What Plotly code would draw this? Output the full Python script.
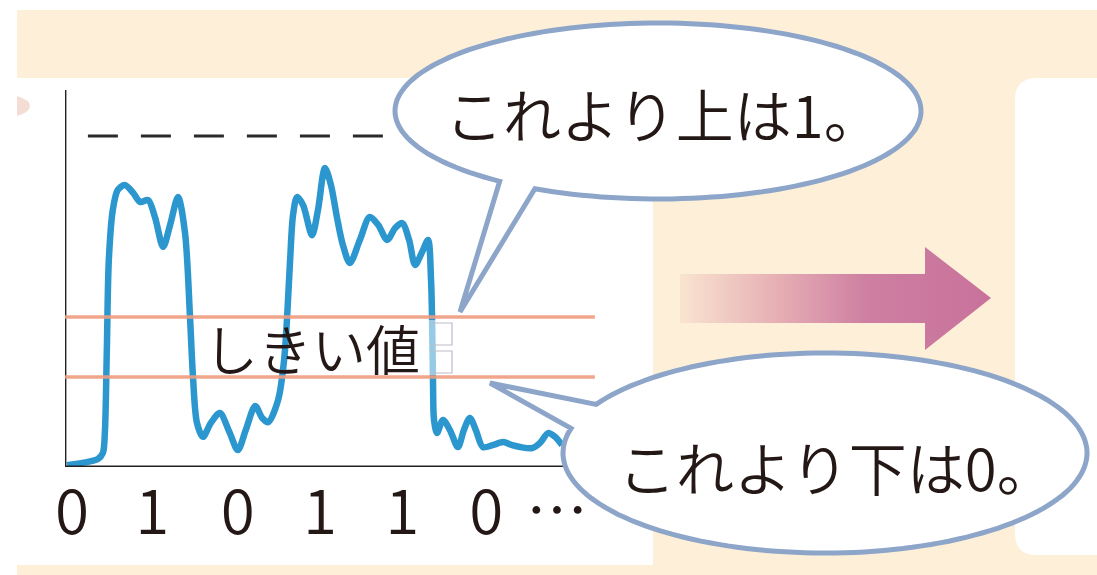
import numpy as np
import plotly.graph_objects as go

W, H = 1097, 575

# ---------------- data ----------------
# sampled analogue signal (time: arbitrary units, amplitude: 0-100)
time = [0.4, 4.4, 6.6, 7.6, 8.0, 8.4, 8.8, 9.6, 10.6, 12.0,
        13.7, 15.1, 16.7, 18.1, 19.7, 21.1, 22.7, 24.1, 25.1, 25.7,
        26.5, 27.7, 29.3, 31.1, 33.0, 34.7, 36.3, 38.2, 39.6, 40.8,
        42.8, 44.0, 44.6, 45.2, 45.8, 46.6, 47.8, 49.6, 50.8, 52.2,
        53.4, 54.6, 55.8, 57.2, 59.2, 61.2, 62.9, 64.7, 66.3, 67.7,
        69.1, 70.3, 71.7, 72.9, 73.5, 73.7, 73.9, 74.1, 74.7, 75.9,
        77.3, 78.9, 80.1, 81.3, 82.5, 83.9, 85.9, 88.0, 89.8, 91.4,
        93.8, 95.4, 97.0, 98.4, 99.8]
amplitude = [0.5, 1.3, 2.1, 3.7, 9.0, 31.0, 54.9, 68.2, 73.5, 74.8,
             72.7, 70.3, 70.8, 66.1, 58.4, 64.2, 71.6, 62.1, 39.8, 23.9,
             11.7, 8.0, 11.7, 14.3, 9.3, 4.5, 9.8, 16.2, 13.0, 11.9,
             17.8, 28.4, 39.8, 54.9, 66.9, 71.6, 69.5, 61.5, 68.2, 79.3,
             74.8, 66.3, 58.9, 54.1, 60.2, 66.3, 64.2, 60.2, 63.4, 64.7,
             60.2, 53.6, 57.0, 60.2, 49.6, 39.8, 22.3, 12.5, 9.0, 12.5,
             9.8, 5.3, 9.8, 13.0, 9.8, 5.3, 5.8, 6.6, 5.8, 5.3,
             5.0, 6.4, 9.0, 8.0, 5.8]

thresholds = [23.9, 39.8]          # lower / upper threshold
high_level = 87.8                  # dashed reference level
threshold_extent = [0, 106.4]
axis_extent_t = [0, 100]
axis_extent_v = [0, 100]
dash_extent = [4.6, 75]

bits = ["0", "1", "0", "1", "1", "0", "…"]
bit_positions = [1.4, 17.5, 34.7, 51.2, 67.7, 84.6, 98.8]

threshold_label = "しきい値"
upper_label = "これより上は1。"
lower_label = "これより下は0。"

# ---------------- style ----------------
FONT = "Noto Sans CJK JP"
INK = "#231815"
BLUE = "#2C97CF"
ORANGE = "#EF9D7F"
BUBBLE = "#8CA5C9"
PEACH = "#FDEFD8"
WEIGHT = 350


def fx(p):
    return p / W


def fy(p):
    return 1 - p / H


def bubble_path(cx, cy, rx, ry, base1, base2, tip, n=160):
    a1 = np.arctan2((base1[1] - cy) / ry, (base1[0] - cx) / rx)
    a2 = np.arctan2((base2[1] - cy) / ry, (base2[0] - cx) / rx)
    lo, hi = min(a1, a2), max(a1, a2)
    ang = np.linspace(hi, lo + 2 * np.pi, n)
    xs = cx + rx * np.cos(ang)
    ys = cy + ry * np.sin(ang)
    pts = [f"{x:.1f},{y:.1f}" for x, y in zip(xs, ys)]
    return "M " + " L ".join(pts) + f" L {tip[0]},{tip[1]} Z"


def rounded_rect_paper(x0, y0, x1, y1, r):
    X = lambda v: f"{fx(v):.5f}"
    Y = lambda v: f"{fy(v):.5f}"
    return (f"M {X(x0+r)},{Y(y0)} L {X(x1-r)},{Y(y0)} Q {X(x1)},{Y(y0)} {X(x1)},{Y(y0+r)} "
            f"L {X(x1)},{Y(y1-r)} Q {X(x1)},{Y(y1)} {X(x1-r)},{Y(y1)} L {X(x0+r)},{Y(y1)} "
            f"Q {X(x0)},{Y(y1)} {X(x0)},{Y(y1-r)} L {X(x0)},{Y(y0+r)} Q {X(x0)},{Y(y0)} {X(x0+r)},{Y(y0)} Z")


fig = go.Figure()

# signal
fig.add_trace(go.Scatter(
    x=time, y=amplitude, mode="lines",
    line=dict(color=BLUE, width=6.5, shape="spline", smoothing=0.85),
    hoverinfo="skip", xaxis="x", yaxis="y"))

# arrow (gradient) on full-figure pixel axes
arrow_x = [680, 925, 925, 991, 925, 925, 680, 680]
arrow_y = [274, 274, 247, 298, 350, 323, 323, 274]
fig.add_trace(go.Scatter(
    x=arrow_x, y=arrow_y, mode="lines", fill="toself",
    line=dict(width=0, color="rgba(0,0,0,0)"),
    fillgradient=dict(type="horizontal",
                      colorscale=[[0, "#F9E4D0"], [0.3, "#E7B1B5"],
                                  [0.6, "#CE7FA2"], [1, "#C8729B"]],
                      start=680, stop=991),
    hoverinfo="skip", xaxis="x2", yaxis="y2"))

shapes = []
P = dict(xref="x2", yref="y2")
PP = dict(xref="paper", yref="paper", layer="below")

# backgrounds (paper refs -> drawn beneath every subplot)
shapes.append(dict(type="rect", x0=fx(17), x1=fx(1100), y0=fy(10), y1=fy(580),
                   fillcolor=PEACH, line=dict(width=0), **PP))
shapes.append(dict(type="rect", x0=fx(17), x1=fx(653), y0=fy(78), y1=fy(565),
                   fillcolor="white", line=dict(width=0), **PP))
shapes.append(dict(type="path", path=rounded_rect_paper(1015, 78, 1130, 555, 22),
                   fillcolor="white", line=dict(width=0), **PP))
shapes.append(dict(type="path",
                   path=f"M {fx(17)},{fy(96)} Q {fx(30)},{fy(100)} {fx(30)},{fy(106)} "
                        f"Q {fx(30)},{fy(112)} {fx(17)},{fy(116)} Z",
                   fillcolor="#EFCFC2", opacity=0.7, line=dict(width=0), **PP))

# axis lines of the signal plot
shapes.append(dict(type="line", xref="x", yref="y", x0=axis_extent_t[0], x1=axis_extent_t[0],
                   y0=axis_extent_v[0], y1=axis_extent_v[1],
                   line=dict(color="#222222", width=2.8)))
shapes.append(dict(type="line", xref="x", yref="y", x0=axis_extent_t[0], x1=axis_extent_t[1],
                   y0=axis_extent_v[0], y1=axis_extent_v[0],
                   line=dict(color="#222222", width=2.8)))

# dashed high level
shapes.append(dict(type="line", xref="x", yref="y", x0=dash_extent[0], x1=dash_extent[1],
                   y0=high_level, y1=high_level,
                   line=dict(color="#2A2A2A", width=3, dash="30px,23px")))

# thresholds
for th in thresholds:
    shapes.append(dict(type="line", xref="x", yref="y",
                       x0=threshold_extent[0], x1=threshold_extent[1], y0=th, y1=th,
                       line=dict(color=ORANGE, width=3.5), opacity=0.9))

# faint bracket marks
shapes.append(dict(type="rect", x0=427, x1=441, y0=320, y1=375,
                   fillcolor="white", opacity=0.5, line=dict(width=0), **P))
shapes.append(dict(type="path",
                   path="M 430,323 L 452,323 L 452,345 L 430,345 M 430,351 L 452,351 L 452,373 L 430,373",
                   line=dict(color="#B9BEC8", width=1.2), **P))

# speech bubbles
shapes.append(dict(type="path",
                   path=bubble_path(658, 111, 263, 88, (498, 182), (533, 190), (460, 312)),
                   fillcolor="white", line=dict(color=BUBBLE, width=5), **P))
shapes.append(dict(type="path",
                   path=bubble_path(825, 453, 262, 100, (585, 402), (567, 428), (490, 383)),
                   fillcolor="white", line=dict(color=BUBBLE, width=5), **P))

annotations = [
    dict(text=threshold_label, xref="x", yref="y", x=49.6, y=31.8,
         showarrow=False, font=dict(family=FONT, size=54, color=INK, weight=WEIGHT)),
    dict(text=upper_label, xref="x2", yref="y2", x=443, y=113, xanchor="left",
         showarrow=False, font=dict(family=FONT, size=58, color=INK, weight=WEIGHT)),
    dict(text=lower_label, xref="x2", yref="y2", x=616, y=466, xanchor="left",
         showarrow=False, font=dict(family=FONT, size=58, color=INK, weight=WEIGHT)),
]

x_dom_end = fx(65 + 107 * 4.98)
fig.update_layout(
    width=W, height=H, autosize=False,
    margin=dict(l=0, r=0, t=0, b=0, pad=0),
    paper_bgcolor="white", plot_bgcolor="rgba(0,0,0,0)",
    showlegend=False,
    xaxis=dict(domain=[fx(65), x_dom_end], range=[0, 107], automargin=False,
               showgrid=False, zeroline=False, showline=False, ticks="",
               tickmode="array", tickvals=bit_positions, ticktext=bits,
               tickfont=dict(family=FONT, size=62, color=INK, weight=WEIGHT),
               ticklabelstandoff=4, fixedrange=True, anchor="y"),
    yaxis=dict(domain=[fy(467), fy(90)], range=[0, 100], automargin=False,
               showgrid=False, zeroline=False, showline=False,
               showticklabels=False, ticks="", fixedrange=True, anchor="x"),
    xaxis2=dict(domain=[0, 1], range=[0, W], visible=False, fixedrange=True,
                automargin=False, anchor="y2"),
    yaxis2=dict(domain=[0, 1], range=[H, 0], visible=False, fixedrange=True,
                automargin=False, anchor="x2"),
    shapes=shapes,
    annotations=annotations,
)

fig.write_html("out.html", config={"displayModeBar": False},
               post_script="document.body.style.margin='0';document.body.style.overflow='hidden';")
